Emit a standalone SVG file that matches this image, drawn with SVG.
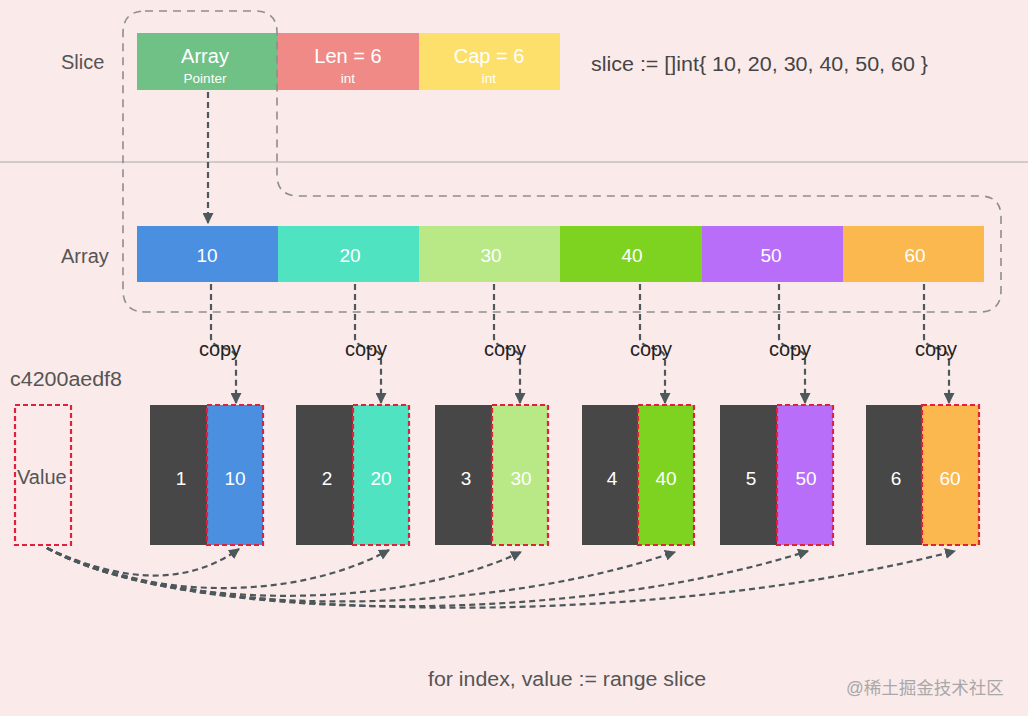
<svg xmlns="http://www.w3.org/2000/svg" width="1028" height="716" viewBox="0 0 1028 716">
<defs>
<style>
.t{font-family:"Liberation Sans",Arial,sans-serif}
.lbl{font-size:20px;fill:#555}
.w{fill:#fff;font-size:19px;text-anchor:middle}
.wh{fill:#fff;font-size:20px;text-anchor:middle}
.ws{fill:#fff;font-size:13.5px;text-anchor:middle}
.copy{font-size:20px;fill:#222;text-anchor:middle}
.conn{fill:none;stroke:#4d585b;stroke-width:2.2;stroke-dasharray:6 4}
.outline{fill:none;stroke:#8e8e8e;stroke-width:1.6;stroke-dasharray:8 6}
.red{fill:none;stroke:#e0213b;stroke-width:2.2;stroke-dasharray:5 3}
.dark{fill:#474747}
</style>
<marker id="ah" viewBox="0 0 10 10" refX="9" refY="5" markerWidth="5" markerHeight="5" orient="auto" markerUnits="strokeWidth">
<path d="M0,0 L10,5 L0,10 z" fill="#4d585b"/>
</marker>
</defs>
<rect width="1028" height="716" fill="#fbeaea"/>
<line x1="0" y1="162" x2="1028" y2="162" stroke="#a9a9a9" stroke-width="1.2"/>

<g id="slice-header">
<text class="t lbl" x="61" y="69">Slice</text>
<text class="t" x="591" y="71" font-size="20" fill="#454545" textLength="337" lengthAdjust="spacingAndGlyphs">slice := []int{ 10, 20, 30, 40, 50, 60 }</text>
</g>
<g id="slice-array"><rect x="137" y="33" width="141" height="57" fill="#6fc186"/><text class="t wh" x="205" y="63">Array</text><text class="t ws" x="205" y="83">Pointer</text></g>
<g id="slice-len"><rect x="278" y="33" width="141" height="57" fill="#f08a86"/><text class="t wh" x="348" y="63">Len = 6</text><text class="t ws" x="348" y="83">int</text></g>
<g id="slice-cap"><rect x="419" y="33" width="141" height="57" fill="#fde06b"/><text class="t wh" x="489" y="63">Cap = 6</text><text class="t ws" x="489" y="83">int</text></g>

<g id="outline"><path class="outline" d="M145,11 H255 Q277,11 277,33 V175 Q277,196 299,196 H980 Q1001,196 1001,217 V290 Q1001,312 980,312 H145 Q123,312 123,290 V33 Q123,11 145,11 Z"/></g>

<g id="array">
<text class="t lbl" x="61" y="263">Array</text>
<g id="a10"><rect x="137" y="226" width="141" height="56" fill="#4a8fe0"/><text class="t w" x="207" y="262">10</text></g>
<g id="a20"><rect x="278" y="226" width="141" height="56" fill="#50e3c2"/><text class="t w" x="350" y="262">20</text></g>
<g id="a30"><rect x="419" y="226" width="141" height="56" fill="#b8e986"/><text class="t w" x="491" y="262">30</text></g>
<g id="a40"><rect x="560" y="226" width="142" height="56" fill="#7ed321"/><text class="t w" x="632" y="262">40</text></g>
<g id="a50"><rect x="702" y="226" width="141" height="56" fill="#b86ef8"/><text class="t w" x="771" y="262">50</text></g>
<g id="a60"><rect x="843" y="226" width="141" height="56" fill="#fbb84f"/><text class="t w" x="915" y="262">60</text></g>
</g>

<g id="connectors">
<path class="conn" d="M208,92 V223" marker-end="url(#ah)" stroke="#444"/>
<path class="conn" d="M211,284 V338 C211,350 236,346 236,358 V403" marker-end="url(#ah)"/>
<path class="conn" d="M355,284 V338 C355,350 381,346 381,358 V403" marker-end="url(#ah)"/>
<path class="conn" d="M494,284 V338 C494,350 520,346 520,358 V403" marker-end="url(#ah)"/>
<path class="conn" d="M640,284 V338 C640,350 665,346 665,358 V403" marker-end="url(#ah)"/>
<path class="conn" d="M779,284 V338 C779,350 805,346 805,358 V403" marker-end="url(#ah)"/>
<path class="conn" d="M924,284 V338 C924,350 949,346 949,358 V403" marker-end="url(#ah)"/>
<path class="conn" d="M47,548 C120,582 185,587 239,549" marker-end="url(#ah)"/>
<path class="conn" d="M47,548 C140,598 290,604 389,550" marker-end="url(#ah)"/>
<path class="conn" d="M47,548 C155,608 390,614 521,552" marker-end="url(#ah)"/>
<path class="conn" d="M47,548 C165,615 470,622 675,552" marker-end="url(#ah)"/>
<path class="conn" d="M47,548 C175,620 560,630 808,551" marker-end="url(#ah)"/>
<path class="conn" d="M47,548 C185,622 640,632 955,551" marker-end="url(#ah)"/>
</g>

<g id="copy-labels">
<text class="t copy" x="220" y="356">copy</text>
<text class="t copy" x="366" y="356">copy</text>
<text class="t copy" x="505" y="356">copy</text>
<text class="t copy" x="651" y="356">copy</text>
<text class="t copy" x="790" y="356">copy</text>
<text class="t copy" x="936" y="356">copy</text>
</g>

<g id="value-var">
<text class="t lbl" x="10" y="386" textLength="112" lengthAdjust="spacingAndGlyphs">c4200aedf8</text>
<rect class="red" x="15" y="405" width="56" height="140"/>
<text class="t lbl" x="17" y="484">Value</text>
</g>

<g id="pair1"><rect class="dark" x="150" y="405" width="57" height="140"/><rect x="207" y="405" width="56" height="140" fill="#4a8fe0"/><rect class="red" x="207" y="405" width="56" height="140"/><text class="t w" x="181" y="485">1</text><text class="t w" x="235" y="485">10</text></g>
<g id="pair2"><rect class="dark" x="296" y="405" width="57" height="140"/><rect x="353" y="405" width="56" height="140" fill="#50e3c2"/><rect class="red" x="353" y="405" width="56" height="140"/><text class="t w" x="327" y="485">2</text><text class="t w" x="381" y="485">20</text></g>
<g id="pair3"><rect class="dark" x="435" y="405" width="57" height="140"/><rect x="492" y="405" width="56" height="140" fill="#b8e986"/><rect class="red" x="492" y="405" width="56" height="140"/><text class="t w" x="466" y="485">3</text><text class="t w" x="521" y="485">30</text></g>
<g id="pair4"><rect class="dark" x="582" y="405" width="56" height="140"/><rect x="638" y="405" width="56" height="140" fill="#7ed321"/><rect class="red" x="638" y="405" width="56" height="140"/><text class="t w" x="612" y="485">4</text><text class="t w" x="666" y="485">40</text></g>
<g id="pair5"><rect class="dark" x="720" y="405" width="57" height="140"/><rect x="777" y="405" width="56" height="140" fill="#b86ef8"/><rect class="red" x="777" y="405" width="56" height="140"/><text class="t w" x="751" y="485">5</text><text class="t w" x="806" y="485">50</text></g>
<g id="pair6"><rect class="dark" x="866" y="405" width="56" height="140"/><rect x="922" y="405" width="57" height="140" fill="#fbb84f"/><rect class="red" x="922" y="405" width="57" height="140"/><text class="t w" x="896" y="485">6</text><text class="t w" x="950" y="485">60</text></g>

<g id="footer">
<text class="t lbl" x="428" y="686" textLength="278" lengthAdjust="spacingAndGlyphs">for index, value := range slice</text>
<text x="846" y="694" font-size="17.5" fill="#a8a8a8" font-family="'Liberation Sans','Noto Sans CJK SC',sans-serif">@稀土掘金技术社区</text>
</g>
</svg>
